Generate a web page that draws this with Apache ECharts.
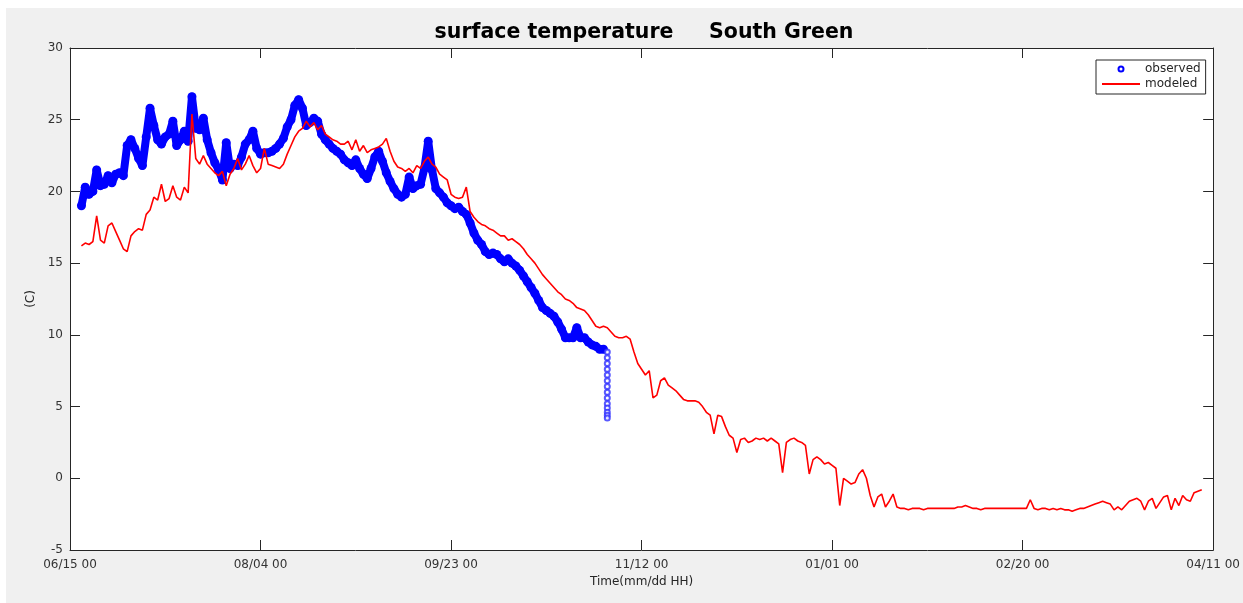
<!DOCTYPE html>
<html>
<head>
<meta charset="utf-8">
<title>surface temperature South Green</title>
<script src="https://cdn.jsdelivr.net/npm/echarts@6/dist/echarts.min.js"></script>
<style>
  html, body { margin: 0; padding: 0; background: #fff; }
  #chart {
    position: absolute;
    left: 6px;
    top: 8px;
    width: 1237px;
    height: 595px;
    background: #f0f0f0;
  }
</style>
</head>
<body>
<div id="chart"></div>
<script>
// x axis is in days since 06/15 00, ticks every 50 days
const tickLabels = ['06/15 00', '08/04 00', '09/23 00', '11/12 00', '01/01 00', '02/20 00', '04/11 00']

// observed: one value per day, starting at day 3
const obsStart = 3
const observed = [
  19.0, 20.3, 19.8, 20.0, 21.5, 20.4, 20.5, 21.1, 20.6, 21.2,
  21.3, 21.1, 23.2, 23.6, 23.0, 22.3, 21.8, 23.8, 25.8, 24.6,
  23.6, 23.3, 23.8, 24.0, 24.9, 23.2, 23.6, 24.2, 23.5, 26.6,
  24.4, 24.3, 25.1, 23.6, 22.7, 22.0, 21.5, 20.8, 23.4, 21.6,
  21.9, 21.8, 22.4, 23.3, 23.6, 24.2, 23.0, 22.6, 22.7, 22.7,
  22.8, 23.0, 23.3, 23.7, 24.5, 25.0, 26.0, 26.4, 25.8, 24.6,
  24.8, 25.1, 24.9, 24.0, 23.6, 23.3, 23.0, 22.8, 22.6, 22.2,
  22.0, 21.8, 22.2, 21.6, 21.2, 20.9, 21.6, 22.4, 22.8, 22.1,
  21.3, 20.7, 20.2, 19.8, 19.6, 19.8, 21.0, 20.2, 20.4, 20.5,
  21.6, 23.5, 21.5, 20.2, 19.9, 19.6, 19.2, 19.0, 18.8, 18.9,
  18.6, 18.4, 17.8, 17.1, 16.6, 16.3, 15.8, 15.6, 15.7, 15.6,
  15.3, 15.1, 15.3, 15.0, 14.8, 14.5, 14.1, 13.7, 13.3, 12.9,
  12.4, 11.9, 11.7, 11.5, 11.3, 10.9, 10.4, 9.8, 9.8, 9.8,
  10.5, 9.8, 9.8, 9.5, 9.3, 9.2, 9.0, 9.0
]

// sensor drop at the end of the observed record
const dropDay = 141
const dropValues = [8.8, 8.4, 8.0, 7.6, 7.2, 6.8, 6.4, 6.0, 5.6, 5.2, 4.9, 4.6, 4.4, 4.2]

// modeled: one value per day, starting at day 3
const modStart = 3
const modeled = [
  16.2, 16.4, 16.3, 16.5, 18.3, 16.6, 16.4, 17.6, 17.8, 17.2,
  16.6, 16.0, 15.8, 16.9, 17.2, 17.4, 17.3, 18.4, 18.7, 19.6,
  19.4, 20.5, 19.3, 19.5, 20.4, 19.6, 19.4, 20.3, 19.9, 25.4,
  22.3, 21.9, 22.5, 21.9, 21.6, 21.3, 21.1, 21.4, 20.4, 21.2,
  21.6, 22.3, 21.5, 21.9, 22.5, 21.8, 21.3, 21.6, 23.0, 21.9,
  21.8, 21.7, 21.6, 21.9, 22.6, 23.2, 23.8, 24.2, 24.4, 24.9,
  24.5, 24.8, 24.3, 24.6, 24.0, 23.8, 23.6, 23.5, 23.3, 23.3,
  23.5, 22.9, 23.6, 22.8, 23.2, 22.7, 22.9, 23.0, 23.1, 23.3,
  23.7, 22.8, 22.1, 21.7, 21.6, 21.4, 21.6, 21.3, 21.8, 21.6,
  22.1, 22.4, 21.9, 21.7, 21.2, 21.0, 20.8, 19.8, 19.6, 19.5,
  19.6, 20.3, 18.6, 18.2, 17.9, 17.7, 17.6, 17.4, 17.3, 17.1,
  16.9, 16.9, 16.6, 16.7, 16.5, 16.3, 16.0, 15.6, 15.3, 15.0,
  14.6, 14.2, 13.9, 13.6, 13.3, 13.0, 12.8, 12.5, 12.4, 12.2,
  11.9, 11.8, 11.7, 11.4, 11.0, 10.6, 10.5, 10.6, 10.5, 10.2,
  9.9, 9.8, 9.8, 9.9, 9.7, 8.8, 8.0, 7.6, 7.2, 7.5,
  5.6, 5.8, 6.8, 7.0, 6.5, 6.3, 6.1, 5.8, 5.5, 5.4,
  5.4, 5.4, 5.3, 5.0, 4.6, 4.4, 3.1, 4.4, 4.3, 3.6,
  3.0, 2.8, 1.8, 2.7, 2.8, 2.5, 2.6, 2.8, 2.7, 2.8,
  2.6, 2.8, 2.6, 2.4, 0.4, 2.5, 2.7, 2.8, 2.6, 2.5,
  2.3, 0.3, 1.3, 1.5, 1.3, 1.0, 1.1, 0.9, 0.7, -1.9,
  0.0, -0.2, -0.4, -0.3, 0.3, 0.6, 0.0, -1.2, -2.0, -1.3,
  -1.1, -2.0, -1.6, -1.1, -2.0, -2.1, -2.1, -2.2, -2.1, -2.1,
  -2.1, -2.2, -2.1, -2.1, -2.1, -2.1, -2.1, -2.1, -2.1, -2.1,
  -2.0, -2.0, -1.9, -2.0, -2.1, -2.1, -2.2, -2.1, -2.1, -2.1,
  -2.1, -2.1, -2.1, -2.1, -2.1, -2.1, -2.1, -2.1, -2.1, -1.5,
  -2.1, -2.2, -2.1, -2.1, -2.2, -2.1, -2.2, -2.1, -2.2, -2.2,
  -2.3, -2.2, -2.1, -2.1, -2.0, -1.9, -1.8, -1.7, -1.6, -1.7,
  -1.8, -2.2, -2.0, -2.2, -1.9, -1.6, -1.5, -1.4, -1.6, -2.2,
  -1.6, -1.4, -2.1, -1.7, -1.3, -1.2, -2.2, -1.4, -1.9, -1.2,
  -1.5, -1.6, -1.0, -0.9, -0.8
]

const axisColor = '#262626'
const font = 'DejaVu Sans'

const chart = echarts.init(document.getElementById('chart'))

// common axis look (matlab style: box, inward ticks, no grid)
const baseAxis = {
  type: 'value',
  axisLine: { show: true, onZero: false, lineStyle: { color: axisColor, width: 1 } },
  axisTick: { show: true, inside: true, length: 10, lineStyle: { color: axisColor } },
  splitLine: { show: false }
}

const option = {
  animation: false,
  textStyle: { fontFamily: font },
  title: {
    text: 'surface temperature     South Green',
    left: 633,
    top: 9,
    textAlign: 'center',
    textStyle: { fontSize: 20.5, fontWeight: 'bold', color: '#000', fontFamily: font }
  },
  legend: {
    data: [
      { name: 'observed', icon: 'emptyCircle' },
      // hide the dot that line legends draw in the middle
      { name: 'modeled', itemStyle: { color: 'rgba(0,0,0,0)', borderColor: 'rgba(0,0,0,0)', borderWidth: 0 } }
    ],
    orient: 'vertical',
    left: 1090,
    top: 52,
    padding: [3, 5, 4, 5],
    itemWidth: 38,
    itemHeight: 5,
    itemGap: 3,
    backgroundColor: '#fff',
    borderColor: axisColor,
    borderWidth: 1,
    borderRadius: 0,
    textStyle: { fontSize: 12, color: axisColor, fontFamily: font }
  },
  grid: {
    left: 64,
    top: 40,
    width: 1146,
    height: 502,
    show: true,
    backgroundColor: '#fff',
    borderWidth: 0
  },
  xAxis: [
    {
      ...baseAxis,
      position: 'bottom',
      min: 0,
      max: 300,
      interval: 50,
      name: 'Time(mm/dd HH)',
      nameLocation: 'middle',
      nameGap: 26,
      nameTextStyle: { fontSize: 12, color: axisColor, fontFamily: font },
      axisLabel: {
        margin: 9,
        fontSize: 12,
        color: '#333',
        formatter: (v) => tickLabels[Math.round(v / 50)]
      }
    },
    {
      ...baseAxis,
      position: 'top',
      min: 0,
      max: 300,
      interval: 50,
      axisLabel: { show: false }
    }
  ],
  yAxis: [
    {
      ...baseAxis,
      position: 'left',
      min: -5,
      max: 30,
      interval: 5,
      name: '(C)',
      nameLocation: 'middle',
      nameRotate: 90,
      nameGap: 29,
      nameTextStyle: { fontSize: 12, color: axisColor, fontFamily: font },
      axisLabel: { margin: 7, fontSize: 12, color: '#333' }
    },
    {
      ...baseAxis,
      position: 'right',
      min: -5,
      max: 30,
      interval: 5,
      axisLabel: { show: false }
    }
  ],
  series: [
    {
      name: 'observed',
      type: 'line',
      data: observed.map((v, i) => [obsStart + i, v]),
      symbol: 'circle',
      symbolSize: 9,
      showSymbol: true,
      showAllSymbol: true,
      lineStyle: { color: '#0000ff', width: 8, join: 'round' },
      itemStyle: { color: '#0000ff' },
      z: 2
    },
    {
      name: 'observed',
      type: 'scatter',
      data: dropValues.map((v) => [dropDay, v]),
      symbol: 'emptyCircle',
      symbolSize: 5,
      itemStyle: { color: '#3030ff', borderWidth: 1 },
      z: 2
    },
    {
      name: 'modeled',
      type: 'line',
      data: modeled.map((v, i) => [modStart + i, v]),
      symbol: 'none',
      lineStyle: { color: '#ff0000', width: 1.6 },
      itemStyle: { color: '#ff0000' },
      z: 3
    }
  ]
}

chart.setOption(option)
</script>
</body>
</html>
